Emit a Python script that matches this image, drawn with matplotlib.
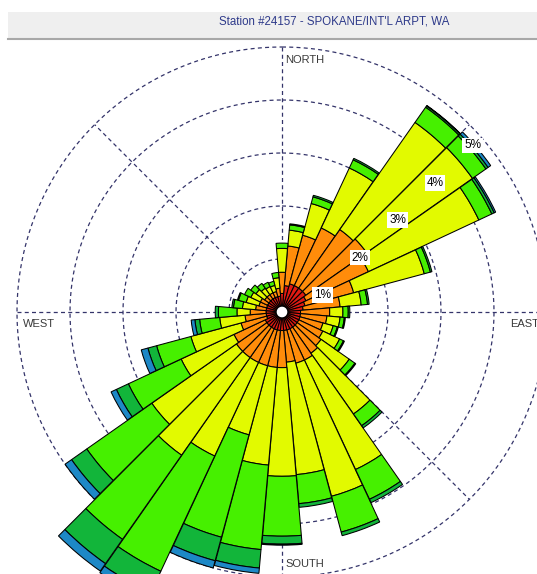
import numpy as np
import matplotlib
matplotlib.use("Agg")
import matplotlib.pyplot as plt
from matplotlib.patches import Rectangle
from matplotlib.lines import Line2D

# Wind direction (degrees, blowing from) and frequency (%) per speed class
directions = np.arange(10, 361, 10)

class_1 = [0.40, 0.45, 0.45, 0.45, 0.45, 0.40, 0.35, 0.30, 0.25, 0.25, 0.25, 0.25,
           0.25, 0.25, 0.25, 0.25, 0.25, 0.25, 0.25, 0.25, 0.25, 0.25, 0.25, 0.25,
           0.20, 0.20, 0.20, 0.20, 0.20, 0.20, 0.20, 0.20, 0.20, 0.20, 0.20, 0.25]
class_2 = [0.75, 0.95, 1.20, 1.35, 1.40, 1.30, 0.95, 0.70, 0.55, 0.50, 0.45, 0.50,
           0.55, 0.60, 0.65, 0.65, 0.60, 0.70, 0.70, 0.70, 0.70, 0.70, 0.70, 0.65,
           0.50, 0.40, 0.30, 0.20, 0.15, 0.15, 0.10, 0.10, 0.10, 0.10, 0.15, 0.40]
class_3 = [0.30, 0.62, 1.25, 2.47, 2.44, 2.30, 1.38, 0.40, 0.25, 0.25, 0.20, 0.35,
           0.65, 1.40, 2.28, 2.60, 2.13, 2.05, 1.85, 1.35, 1.95, 2.25, 1.95, 1.10,
           0.98, 0.48, 0.25, 0.25, 0.25, 0.20, 0.20, 0.15, 0.13, 0.12, 0.20, 0.45]
class_4 = [0.10, 0.13, 0.17, 0.35, 0.31, 0.27, 0.12, 0.12, 0.10, 0.08, 0.08, 0.08,
           0.13, 0.27, 0.62, 0.70, 0.55, 1.13, 1.60, 2.00, 2.40, 1.94, 1.50, 1.10,
           0.67, 0.38, 0.35, 0.17, 0.15, 0.13, 0.12, 0.11, 0.09, 0.08, 0.10, 0.10]
class_5 = [0.02, 0.03, 0.03, 0.03, 0.05, 0.05, 0.03, 0.03, 0.03, 0.02, 0.02, 0.02,
           0.02, 0.05, 0.07, 0.07, 0.07, 0.15, 0.35, 0.46, 0.45, 0.56, 0.35, 0.25,
           0.17, 0.09, 0.06, 0.03, 0.02, 0.00, 0.00, 0.00, 0.00, 0.00, 0.00, 0.00]
class_6 = [0.00, 0.00, 0.00, 0.01, 0.06, 0.03, 0.00, 0.00, 0.00, 0.00, 0.00, 0.00,
           0.00, 0.00, 0.00, 0.00, 0.00, 0.02, 0.10, 0.14, 0.15, 0.17, 0.15, 0.11,
           0.13, 0.07, 0.00, 0.00, 0.00, 0.00, 0.00, 0.00, 0.00, 0.00, 0.00, 0.00]

speed_classes = [class_1, class_2, class_3, class_4, class_5, class_6]
class_colors = ["#e01a12", "#ff8c0a", "#e2fa00", "#46f000", "#12b53a", "#1d88c6"]

ring_values = [1, 2, 3, 4, 5]
ring_labels = ["1%", "2%", "3%", "4%", "5%"]
title = "Station #24157 - SPOKANE/INT'L ARPT, WA"

calm_radius = 0.1
r_max = 6.3

W, H, DPI = 537, 574, 100
fig = plt.figure(figsize=(W / DPI, H / DPI), dpi=DPI)
fig.patch.set_facecolor("white")

# polar axes centred at pixel (282, 312), 53 px per percent
cx, cy, unit = 282.0, 312.0, 53.0
R = r_max * unit
ax = fig.add_axes([(cx - R) / W, (H - cy - R) / H, 2 * R / W, 2 * R / H],
                  projection="polar")
ax.set_theta_zero_location("N")
ax.set_theta_direction(-1)
ax.set_ylim(0, r_max)
ax.set_xticks([])
ax.set_yticks([])
ax.grid(False)
ax.spines["polar"].set_visible(False)
ax.patch.set_alpha(0)

grid_kw = dict(color="#34346a", lw=0.9, ls=(0, (3.2, 2.6)), zorder=1)
t = np.linspace(0, 2 * np.pi, 720)
for rv in ring_values:
    ax.plot(t, np.full_like(t, rv), **grid_kw)
for ang in (0, 90, 180, 270):
    ax.plot([np.radians(ang)] * 2, [0, ring_values[-1]], **grid_kw)
for ang in (45, 135, 225, 315):
    ax.plot([np.radians(ang)] * 2, [ring_values[0], ring_values[-1]], **grid_kw)

# stacked speed-class bars
theta = np.radians(directions)
width = np.radians(10) * 0.99
bottom = np.full(len(directions), calm_radius)
for vals, col in zip(speed_classes, class_colors):
    vals = np.asarray(vals)
    keep = vals > 0
    ax.bar(theta[keep], vals[keep], width=width, bottom=bottom[keep],
           color=col, edgecolor="black", linewidth=0.75, zorder=3)
    bottom = bottom + vals

# calm circle
ax.bar(0, calm_radius, width=2 * np.pi, bottom=0, color="white",
       edgecolor="none", zorder=4)

# ring labels along the NE diagonal
for rv, lab in zip(ring_values, ring_labels):
    x = rv * np.cos(np.radians(45)) + 0.06
    y = rv * np.sin(np.radians(45)) - 0.39
    ax.text(np.arctan2(x, y), np.hypot(x, y), lab, ha="center", va="center",
            fontsize=8.5, family="Liberation Sans", color="black", zorder=6,
            bbox=dict(boxstyle="square,pad=0.15", fc="white", ec="none"))

# compass labels
lab_kw = dict(fontsize=8, family="Liberation Sans", color="#3a3a3a",
              va="center", ha="left")
fig.text(285 / W, 1 - 60 / H, "NORTH", **lab_kw)
fig.text(23 / W, 1 - 324 / H, "WEST", **lab_kw)
fig.text(510 / W, 1 - 324 / H, "EAST", **lab_kw)
fig.text(285 / W, 1 - 564 / H, "SOUTH", **lab_kw)

# header band
fig.patches.append(Rectangle((8 / W, 1 - 38 / H), 1 - 8 / W, 26 / H,
                             transform=fig.transFigure, facecolor="#efefef",
                             edgecolor="none", zorder=10))
fig.lines.append(Line2D([8 / W, 1], [1 - 38.5 / H] * 2, transform=fig.transFigure,
                        color="#a8a8a8", lw=1.5, zorder=11))
fig.text(334 / W, 1 - 22 / H, title, ha="center", va="center", fontsize=8.3,
         family="Liberation Sans", color="#2e3a8a", zorder=12)

fig.savefig("out.png", dpi=DPI, facecolor="white")
